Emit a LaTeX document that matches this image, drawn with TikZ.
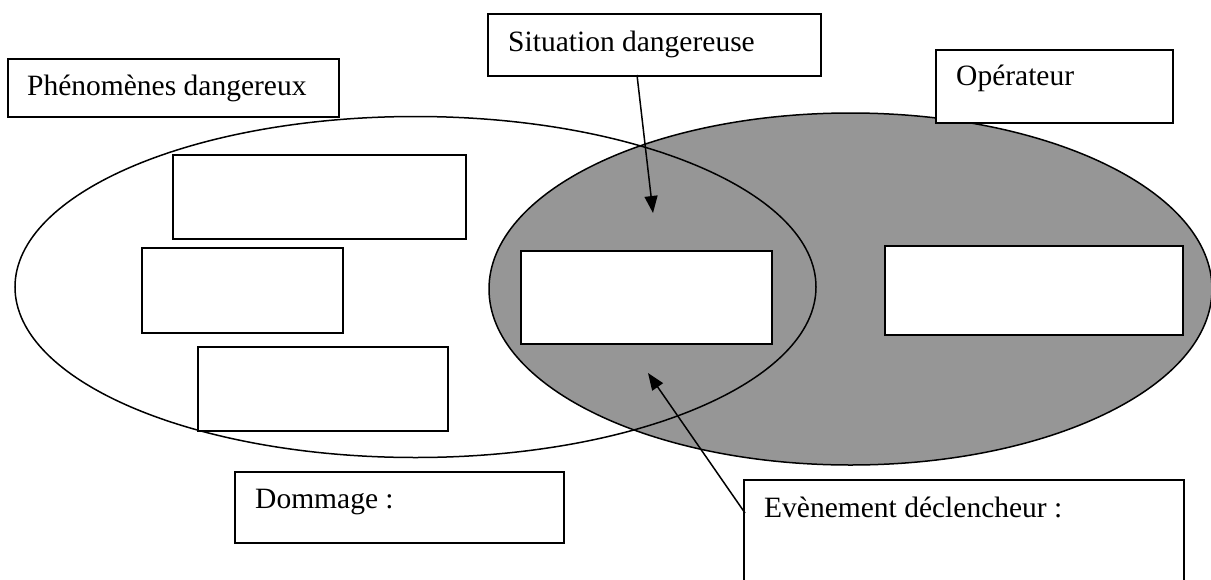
\documentclass[tikz,border=0pt]{standalone}
\usepackage{fontspec}
\setmainfont{Liberation Serif}
\usetikzlibrary{shapes.geometric,arrows.meta}
\definecolor{zonegray}{RGB}{150,150,150}
\tikzset{
  box/.style={draw=black, line width=1.5pt, fill=white, rectangle, anchor=north west, inner sep=0pt},
  zone/.style={ellipse, draw=black, line width=1.5pt, inner sep=0pt},
  lbl/.style={anchor=base west, inner sep=0pt, font=\fontsize{29.5}{34}\selectfont},
  arr/.style={line width=1.5pt, -{Triangle[length=17pt,width=13pt]}}
}
\begin{document}
\begin{tikzpicture}[x=1pt,y=-1pt]
\useasboundingbox (0,0) rectangle (1211,579);
\clip (0,0) rectangle (1211,579);
% zones
\node[zone, fill=zonegray, minimum width=723pt, minimum height=352pt] (oper) at (850.5,289) {};
\node[zone, minimum width=801pt, minimum height=341pt] (phenz) at (415.5,287) {};
% label boxes
\node[box, minimum width=331pt, minimum height=58pt] (phen) at (7,58) {};
\node[box, minimum width=333pt, minimum height=62pt] (sit) at (487,13) {};
\node[box, minimum width=237pt, minimum height=73pt] (op) at (935,49) {};
\node[box, minimum width=329pt, minimum height=71pt] (dom) at (234,471) {};
\node[box, minimum width=440pt, minimum height=130pt] (evt) at (743,479) {};
% empty boxes
\node[box, minimum width=293pt, minimum height=84pt] (ba) at (172,154) {};
\node[box, minimum width=201pt, minimum height=85pt] (bb) at (141,247) {};
\node[box, minimum width=250pt, minimum height=84pt] (bc) at (197,346) {};
\node[box, minimum width=251pt, minimum height=93pt] (bd) at (520,250) {};
\node[box, minimum width=298pt, minimum height=89pt] (be) at (884,245) {};
% texts
\node[lbl] (tphen) at (27,95) {Phénomènes dangereux};
\node[lbl] (tsit) at (508,51) {Situation dangereuse};
\node[lbl] (top) at (956,85) {Opérateur};
\node[lbl] (tdom) at (255,508) {Dommage :};
\node[lbl] (tevt) at (764,517) {Evènement déclencheur :};
% arrows
\coordinate (sitfoot) at (637,75);
\coordinate (sittip) at (653,213);
\coordinate (evtfoot) at (745,513);
\coordinate (evttip) at (648,373);
\draw[arr] (sitfoot) -- (sittip);
\draw[arr] (evtfoot) -- (evttip);
\end{tikzpicture}
\end{document}
